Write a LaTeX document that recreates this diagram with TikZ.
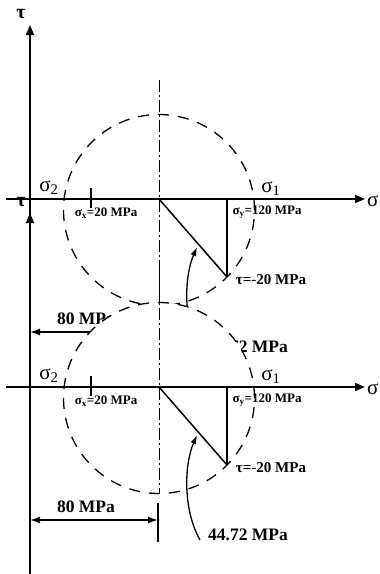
\documentclass[tikz,border=0pt]{standalone}
\usepackage{fontspec}
\setmainfont{Liberation Serif}
\usetikzlibrary{arrows.meta}
\tikzset{
  x=1pt, y=-1pt,
  axisline/.style={line width=1.6pt, -{Triangle[length=10pt,width=8pt]}},
  circ/.style={line width=1.3pt, dash pattern=on 11pt off 9pt},
  cline/.style={line width=0.9pt, dash pattern=on 12pt off 3pt on 2pt off 3pt},
  thinl/.style={line width=1.1pt},
  diag/.style={line width=1.5pt},
  arcarrow/.style={line width=1.3pt, -{Latex[length=9pt,width=6pt]}},
  dimarrow/.style={line width=1.5pt, {Latex[length=10pt,width=7pt]}-{Latex[length=10pt,width=7pt]}},
  biglab/.style={inner sep=0pt, font=\fontsize{17.5}{17.5}\selectfont\bfseries},
  midlab/.style={inner sep=0pt, font=\fontsize{15}{15}\selectfont\bfseries},
  smlab/.style={inner sep=0pt, font=\fontsize{13}{13}\selectfont\bfseries},
  greek/.style={inner sep=0pt, font=\fontsize{21}{21}\selectfont},
}
\newcommand\mohrdiag[2]{%
  \begin{scope}[yshift=-#2pt]
    \coordinate (#1O) at (159,210);
    \fill[white] (#1O) circle[radius=95.5pt];
    \draw[circ] (#1O) circle[radius=95.5pt];
    \coordinate (#1ct) at (159,80);
    \coordinate (#1cb) at (159,305);
    \draw[cline] (#1ct) -- (#1cb);
    \coordinate (#1sl) at (6,199);
    \coordinate (#1sr) at (365,199);
    \draw[axisline] (#1sl) -- (#1sr);
    \coordinate (#1tb) at (30,386);
    \coordinate (#1tt) at (30,25);
    \draw[axisline] (#1tb) -- (#1tt);
    \coordinate (#1xa) at (91,188);
    \coordinate (#1xb) at (91,208);
    \draw[line width=1.5pt] (#1xa) -- (#1xb);
    \coordinate (#1C) at (159,199);
    \coordinate (#1Y) at (227,199);
    \coordinate (#1P) at (227,277);
    \draw[thinl] (#1Y) -- (#1P);
    \draw[diag] (#1C) -- (#1P);
    \coordinate (#1as) at (200,352);
    \coordinate (#1ae) at (197,247);
    \draw[arcarrow] (#1as) .. controls (183,322) and (184,277) .. (#1ae);
    \coordinate (#1dl) at (30,332);
    \coordinate (#1dr) at (158,332);
    \draw[dimarrow] (#1dl) -- (#1dr);
    \coordinate (#1ka) at (158,315);
    \coordinate (#1kb) at (158,354);
    \draw[line width=1.4pt] (#1ka) -- (#1kb);
    \node[greek, font=\fontsize{20}{20}\selectfont\bfseries] (#1tau) at (21,14) {τ};
    \node[greek, anchor=west] (#1sig) at (367,201) {σ};
    \node[greek] (#1s2) at (49,188) {σ\textsubscript{2}};
    \node[greek] (#1s1) at (271,189) {σ\textsubscript{1}};
    \node[smlab] (#1lx) at (106,213) {σ\textsubscript{x}=20 MPa};
    \node[smlab] (#1ly) at (267,212) {σ\textsubscript{y}=120 MPa};
    \node[midlab] (#1lt) at (271,280) {τ=-20 MPa};
    \node[biglab] (#1l80) at (86,319) {80 MPa};
    \node[biglab] (#1l44) at (248,347) {44.72 MPa};
  \end{scope}%
}
\begin{document}
\begin{tikzpicture}
  \useasboundingbox (0,0) rectangle (380,574);
  \mohrdiag{u}{0}
  \mohrdiag{l}{188}
\end{tikzpicture}
\end{document}
